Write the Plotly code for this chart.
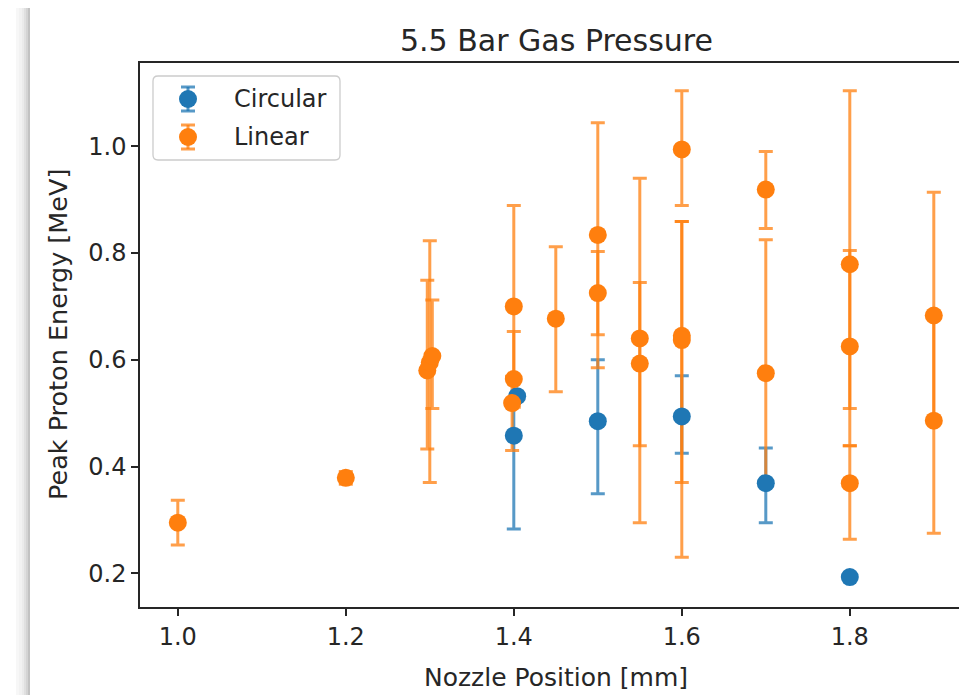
import plotly.graph_objects as go

# ---- data ----
circ_x = [1.400, 1.404, 1.500, 1.600, 1.700, 1.800]
circ_y = [0.458, 0.532, 0.485, 0.494, 0.369, 0.193]
circ_up = [0.060, 0.000, 0.115, 0.076, 0.066, 0.000]
circ_dn = [0.175, 0.000, 0.136, 0.069, 0.074, 0.000]

lin_x = [1.000, 1.200, 1.297, 1.300, 1.303, 1.400, 1.400, 1.398, 1.450, 1.500, 1.500,
         1.550, 1.550, 1.600, 1.600, 1.600, 1.700, 1.700, 1.800, 1.800, 1.800, 1.900, 1.900]
lin_y = [0.295, 0.379, 0.580, 0.595, 0.607, 0.700, 0.564, 0.519, 0.677, 0.834, 0.725,
         0.640, 0.593, 0.994, 0.645, 0.637, 0.919, 0.575, 0.779, 0.625, 0.369, 0.683, 0.486]
lin_up = [0.042, 0.012, 0.169, 0.228, 0.105, 0.189, 0.089, 0.050, 0.135, 0.210, 0.078,
          0.300, 0.152, 0.110, 0.214, 0.222, 0.071, 0.250, 0.325, 0.180, 0.070, 0.231, 0.197]
lin_dn = [0.042, 0.012, 0.147, 0.225, 0.098, 0.189, 0.040, 0.089, 0.137, 0.249, 0.078,
          0.345, 0.154, 0.105, 0.275, 0.407, 0.073, 0.200, 0.270, 0.186, 0.105, 0.197, 0.211]

x_ticks = [1.0, 1.2, 1.4, 1.6, 1.8]
y_ticks = [0.2, 0.4, 0.6, 0.8, 1.0]

BLUE = "#1f77b4"
ORANGE = "#ff7f0e"
BLUE_EB = "rgba(31,119,180,0.75)"
ORANGE_EB = "rgba(255,127,14,0.75)"
TXT = "#262626"
FONT = "DejaVu Sans"
MS = 18

# plot area in pixels
L, R, T, B = 140, 959, 63, 607
W, H = R - L, B - T


def px(x):
    return (x - L) / W


def py(y):
    return (B - y) / H


fig = go.Figure()

# error bars first (below all markers, as in matplotlib)
for xs, ys, up, dn, col in [(circ_x, circ_y, circ_up, circ_dn, BLUE_EB),
                            (lin_x, lin_y, lin_up, lin_dn, ORANGE_EB)]:
    fig.add_trace(go.Scatter(
        x=xs, y=ys, mode="markers",
        marker=dict(size=MS, opacity=0),
        error_y=dict(type="data", symmetric=False, array=up, arrayminus=dn,
                     color=col, thickness=3, width=7),
        showlegend=False, hoverinfo="skip"))

fig.add_trace(go.Scatter(x=circ_x, y=circ_y, mode="markers", name="Circular",
                         marker=dict(size=MS, color=BLUE), showlegend=False))
fig.add_trace(go.Scatter(x=lin_x, y=lin_y, mode="markers", name="Linear",
                         marker=dict(size=MS, color=ORANGE), showlegend=False))

shapes = []
# left window shadow
edges = [16, 19, 22, 24, 26, 28, 30]
alphas = [0.03, 0.05, 0.08, 0.12, 0.17, 0.24]
for i, a in enumerate(alphas):
    shapes.append(dict(type="rect", xref="paper", yref="paper",
                       x0=px(edges[i]), x1=px(edges[i + 1]), y0=py(695), y1=py(8),
                       fillcolor=f"rgba(0,0,0,{a})", line=dict(width=0), layer="above"))

# legend box (rounded)
lx0, lx1, ly0, ly1, r = 153, 340, 76, 160, 5
rx, ry = r / W, r / H
X0, X1, Y0, Y1 = px(lx0), px(lx1), py(ly1), py(ly0)
path = (f"M {X0+rx},{Y0} L {X1-rx},{Y0} Q {X1},{Y0} {X1},{Y0+ry} "
        f"L {X1},{Y1-ry} Q {X1},{Y1} {X1-rx},{Y1} L {X0+rx},{Y1} "
        f"Q {X0},{Y1} {X0},{Y1-ry} L {X0},{Y0+ry} Q {X0},{Y0} {X0+rx},{Y0} Z")
shapes.append(dict(type="path", xref="paper", yref="paper", path=path,
                   fillcolor="rgba(255,255,255,0.8)", line=dict(color="#cccccc", width=1.3),
                   layer="above"))

legend_items = [("Circular", BLUE, BLUE_EB, 99), ("Linear", ORANGE, ORANGE_EB, 137)]
annotations = []
for name, col, ecol, cy in legend_items:
    cx = 188
    shapes.append(dict(type="line", xref="paper", yref="paper",
                       x0=px(cx), x1=px(cx), y0=py(cy + 12), y1=py(cy - 12),
                       line=dict(color=ecol, width=3), layer="above"))
    for yy in (cy - 12, cy + 12):
        shapes.append(dict(type="line", xref="paper", yref="paper",
                           x0=px(cx - 7), x1=px(cx + 7), y0=py(yy), y1=py(yy),
                           line=dict(color=ecol, width=3), layer="above"))
    shapes.append(dict(type="circle", xref="paper", yref="paper",
                       x0=px(cx - MS / 2), x1=px(cx + MS / 2), y0=py(cy + MS / 2), y1=py(cy - MS / 2),
                       fillcolor=col, line=dict(width=0), layer="above"))
    annotations.append(dict(text=name, xref="paper", yref="paper", x=px(232), y=py(cy),
                            xanchor="left", yanchor="middle", showarrow=False,
                            font=dict(family=FONT, size=24, color=TXT)))

annotations.append(dict(text="5.5 Bar Gas Pressure", xref="paper", yref="paper",
                        x=px(556), y=py(40), xanchor="center", yanchor="middle",
                        showarrow=False, font=dict(family=FONT, size=30, color=TXT)))
annotations.append(dict(text="Peak Proton Energy [MeV]", xref="paper", yref="paper",
                        x=px(58), y=py(335), xanchor="center", yanchor="middle", textangle=-90,
                        showarrow=False, font=dict(family=FONT, size=25.5, color=TXT)))
annotations.append(dict(text="Nozzle Position [mm]", xref="paper", yref="paper",
                        x=px(556), y=py(677), xanchor="center", yanchor="middle",
                        showarrow=False, font=dict(family=FONT, size=25, color=TXT)))

fig.update_layout(
    width=959, height=695,
    margin=dict(l=L, r=959 - R, t=T, b=695 - B, pad=0),
    paper_bgcolor="white", plot_bgcolor="white",
    shapes=shapes, annotations=annotations,
    font=dict(family=FONT, size=24, color=TXT),
    xaxis=dict(range=[0.955, 0.955 + W / 840], tickvals=x_ticks, tickformat=".1f",
               showline=True, linecolor=TXT, linewidth=1.5, mirror=True,
               ticks="outside", ticklen=7, tickwidth=1.5, tickcolor=TXT,
               showgrid=False, zeroline=False,
               tickfont=dict(family=FONT, size=24, color=TXT)),
    yaxis=dict(range=[0.137, 1.156], tickvals=y_ticks, tickformat=".1f",
               showline=True, linecolor=TXT, linewidth=1.5, mirror=False,
               ticks="outside", ticklen=7, tickwidth=1.5, tickcolor=TXT,
               showgrid=False, zeroline=False,
               tickfont=dict(family=FONT, size=24, color=TXT)),
)

fig.write_html("out.html")
